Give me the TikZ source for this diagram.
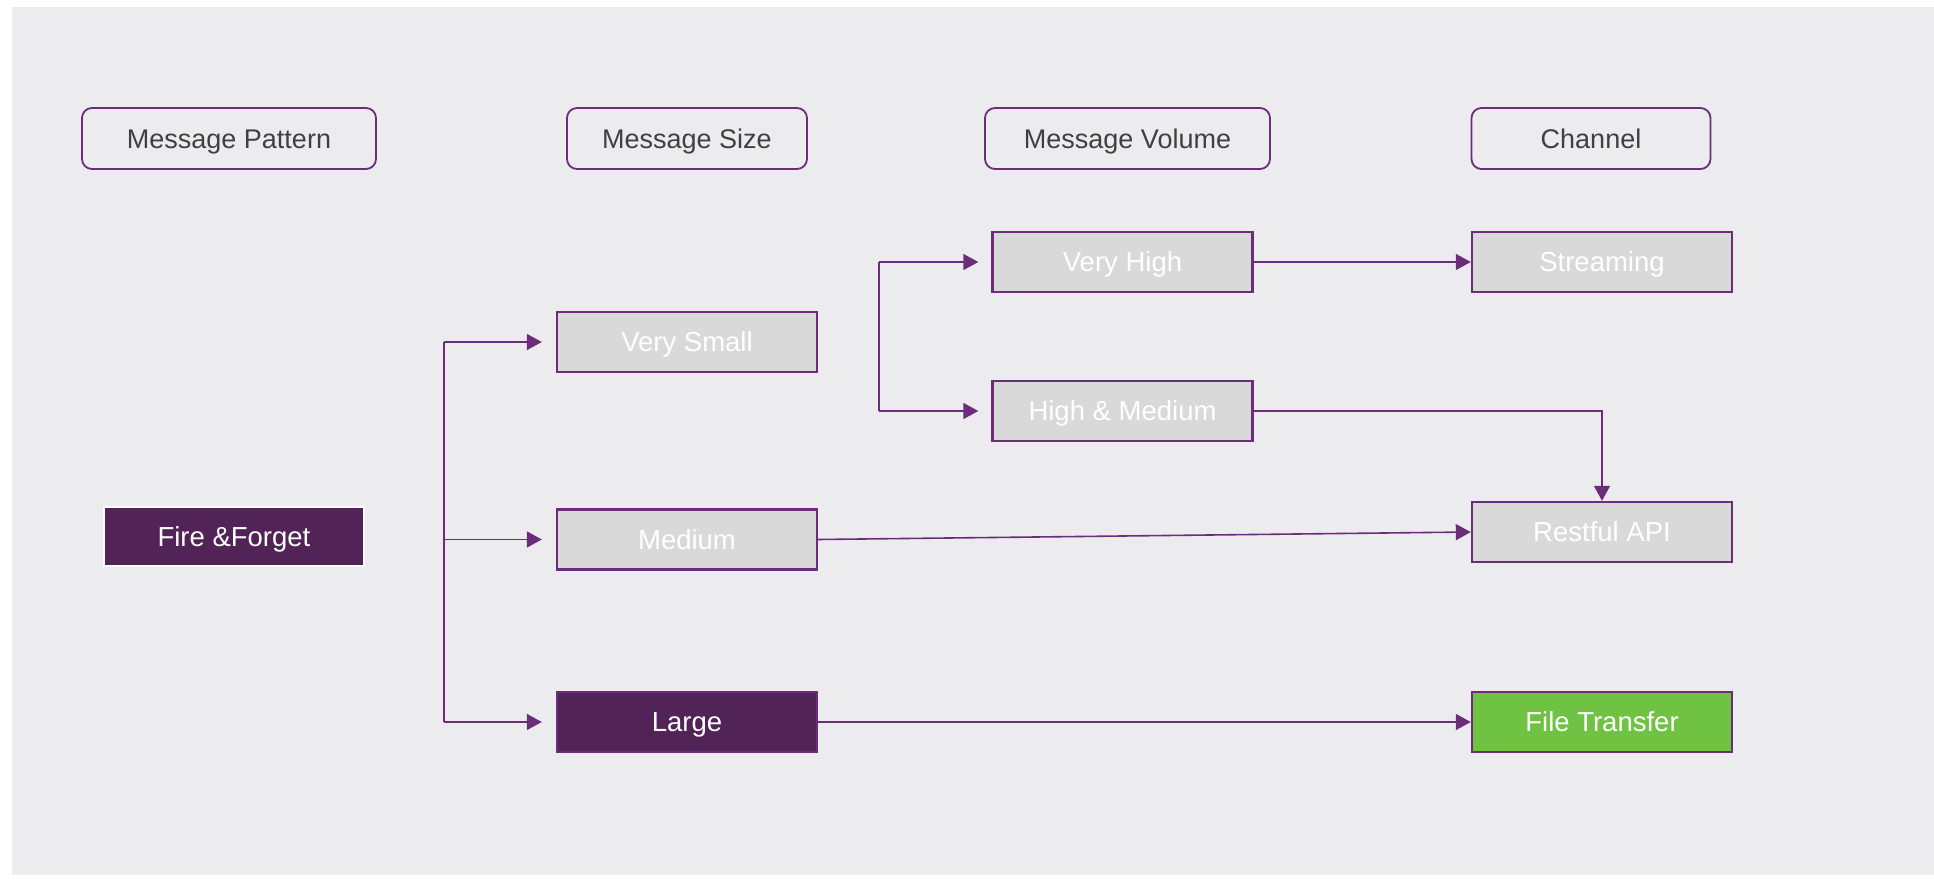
\documentclass[tikz,border=0pt]{standalone}
\usepackage{fontspec}
\setmainfont{Liberation Sans}
\usetikzlibrary{arrows.meta,positioning}

\definecolor{bgGrey}{HTML}{ECECEF}
\definecolor{boxGrey}{HTML}{D9D9D9}
\definecolor{plum}{HTML}{6B2C7A}
\definecolor{darkPlum}{HTML}{522357}
\definecolor{leafGreen}{HTML}{70C342}
\definecolor{headText}{HTML}{404040}

\begin{document}
\begin{tikzpicture}[x=0.5pt,y=-0.5pt,
  >={Triangle[length=7.5pt,width=8pt]},
  head node/.style={draw=plum,line width=0.9pt,rounded corners=5pt,minimum height=30.5pt,
    text=headText,text height=9.7pt,text depth=0pt,font=\fontsize{13.5}{16}\selectfont},
  box node/.style={draw=plum,line width=1.2pt,minimum width=130pt,minimum height=30pt,
    text=white,text height=9.85pt,text depth=0pt,font=\fontsize{13.75}{16}\selectfont},
  grey node/.style={box node,fill=boxGrey},
  dark node/.style={box node,fill=darkPlum},
  green node/.style={box node,fill=leafGreen},
  link/.style={draw=plum,line width=0.8pt,->},
  trunk/.style={draw=plum,line width=0.8pt}]

  \useasboundingbox (0,0) rectangle (1934,882);
  \fill[white] (0,0) rectangle (1934,882);
  \fill[bgGrey] (12,7) rectangle (1934,875);

  % column heads
  \node[head node, minimum width=147pt] (hpattern) at (229,138.5) {Message Pattern};
  \node[head node, minimum width=120pt] (hsize) at (687,138.5) {Message Size};
  \node[head node, minimum width=142.5pt] (hvolume) at (1127.5,138.5) {Message Volume};
  \node[head node, minimum width=119.5pt] (hchannel) at (1591,138.5) {Channel};

  % boxes
  \node[dark node, draw=white, minimum height=29.5pt] (fire) at (234,536.5) {Fire \&Forget};

  \node[grey node] (vsmall) at (687,342) {Very Small};
  \node[grey node] (medium) at (687,539.5) {Medium};
  \node[dark node] (large) at (687,722) {Large};

  \node[grey node] (vhigh) at (1122.5,262) {Very High};
  \node[grey node] (hmed) at (1122.5,411) {High \& Medium};

  \node[grey node] (stream) at (1602,262) {Streaming};
  \node[grey node] (rest) at (1602,532) {Restful API};
  \node[green node] (file) at (1602,722) {File Transfer};

  % branch lines
  \coordinate (sizeTop) at (444,342);
  \coordinate (sizeMid) at (444,539.5);
  \coordinate (sizeBot) at (444,722);
  \coordinate (volTop) at (879,262);
  \coordinate (volBot) at (879,411);

  \draw[trunk] (sizeTop) -- (sizeBot);
  \path[every edge/.style={link, shorten >=7pt}]
    (sizeTop) edge (vsmall.west)
    (sizeMid) edge (medium.west)
    (sizeBot) edge (large.west);

  \draw[trunk] (volTop) -- (volBot);
  \path[every edge/.style={link, shorten >=6.5pt}]
    (volTop) edge (vhigh.west)
    (volBot) edge (hmed.west);

  \path[every edge/.style={link}]
    (vhigh) edge (stream)
    (medium.east) edge (rest.west)
    (large) edge (file);
  \draw[link] (hmed.east) -| (rest.north);

\end{tikzpicture}
\end{document}
